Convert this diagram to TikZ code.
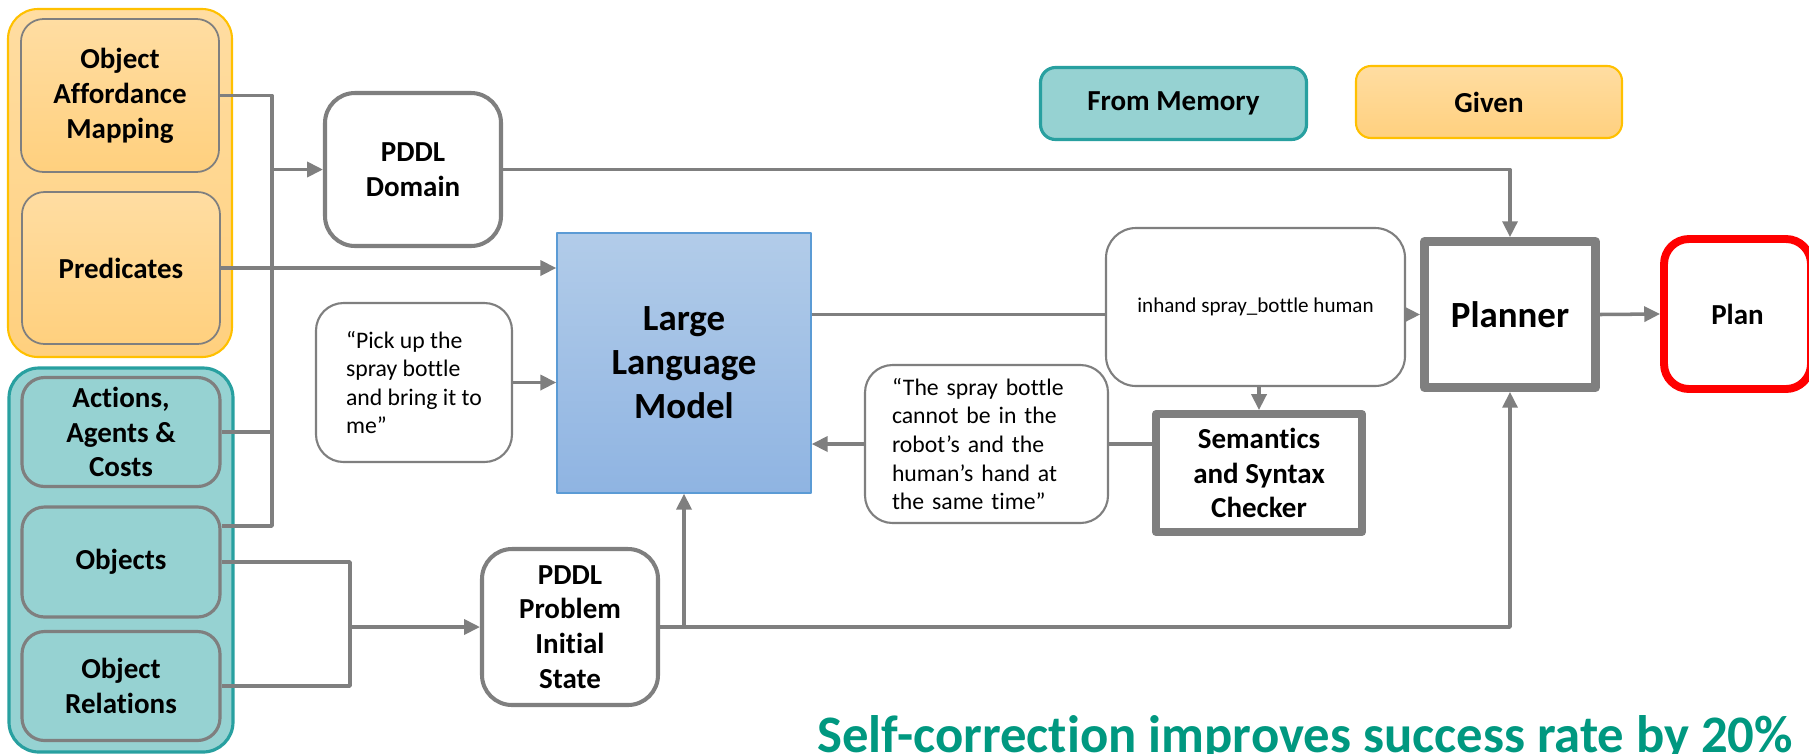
\documentclass[tikz,border=0pt]{standalone}
\usepackage{fontspec}
\setmainfont{Carlito}[Ligatures={NoCommon}]
\usetikzlibrary{arrows.meta}

\definecolor{linegray}{RGB}{127,127,127}
\definecolor{gold}{RGB}{255,192,0}
\definecolor{orangetop}{RGB}{255,221,162}
\definecolor{orangebot}{RGB}{255,208,126}
\definecolor{tealfill}{RGB}{150,210,210}
\definecolor{tealedge}{RGB}{40,160,160}
\definecolor{llmtop}{RGB}{178,204,233}
\definecolor{llmbot}{RGB}{143,180,226}
\definecolor{llmedge}{RGB}{91,155,213}
\definecolor{notegreen}{RGB}{0,152,128}

\begin{document}
\begin{tikzpicture}[line join=round,
  link/.style={draw=linegray,line width=2pt},
  arr/.style={link,-{Triangle[length=9pt,width=8.5pt]}},
  given/.style={top color=orangetop,bottom color=orangebot},
  memory/.style={fill=tealfill},
  group/.style={rounded corners=0.6cm,minimum width=4.48cm},
  key/.style={rounded corners=0.3cm,minimum width=5.32cm,minimum height=1.44cm,
    font=\bfseries\fontsize{16.5}{19.8}\selectfont},
  item/.style={draw=linegray,rounded corners=0.45cm,minimum width=3.96cm,align=center,
    font=\bfseries\fontsize{16.5}{19.8}\selectfont},
  plain/.style={draw=linegray,fill=white,rounded corners=0.6cm,align=center,
    font=\bfseries\fontsize{16.5}{19.8}\selectfont},
  speech/.style={draw=linegray,fill=white,line width=1.2pt,rounded corners=0.55cm,
    align=left,inner xsep=0.54cm,font=\fontsize{13.5}{16.3}\selectfont},
  heavy/.style={draw=linegray,fill=white,align=center,
    font=\bfseries\fontsize{16.5}{19.8}\selectfont}]
  \useasboundingbox (0,0) rectangle (36.18,-15.06);

  \node[group,given,draw=gold,line width=1.2pt,minimum height=6.96cm] (grpA) at (2.40,-3.66) {};
  \node[group,memory,draw=tealedge,line width=1.8pt,minimum height=7.68cm] (grpB) at (2.42,-11.20) {};
  \node[item,given,line width=1pt,minimum height=3.06cm] (oam) at (2.40,-1.91)
    {Object\\Affordance\\Mapping};
  \node[item,given,line width=1pt,minimum height=3.04cm] (pred) at (2.42,-5.36) {Predicates};
  \foreach \n/\y/\h/\t in {act/8.64/2.18/{Actions,\\Agents \&\\Costs},
    obj/11.24/2.20/Objects,rel/13.72/2.18/{Object\\Relations}}
    \node[item,memory,line width=1.8pt,minimum height=\h cm] (\n) at (2.42,-\y) {\t};

  \node[key,memory,draw=tealedge,line width=1.8pt] (mem) at (23.47,-2.07) {From Memory};
  \node[key,given,draw=gold,line width=1.2pt] (giv) at (29.78,-2.04) {Given};

  \node[plain,line width=2.3pt,minimum width=3.52cm,minimum height=3.06cm] (dom) at (8.26,-3.39)
    {PDDL\\Domain};
  \node[plain,line width=2.3pt,minimum width=3.52cm,minimum height=3.12cm] (prob) at (11.40,-12.54)
    {PDDL\\Problem\\Initial\\State};
  \node[draw=llmedge,line width=0.8pt,top color=llmtop,bottom color=llmbot,
    minimum width=5.08cm,minimum height=5.2cm,align=center,
    font=\bfseries\fontsize{21}{25}\selectfont] (llm) at (13.68,-7.26) {Large\\Language\\Model};
  \node[speech,minimum width=3.92cm,minimum height=3.18cm] (pick) at (8.28,-7.65)
    {“Pick up the\\spray bottle\\and bring it to\\me”};
  \node[speech,text width=3.78cm,minimum height=3.16cm] (fb) at (19.73,-8.88)
    {“The spray bottle\\cannot be in the\\robot’s and the\\human’s hand at\\the same time”};
  \node[speech,align=center,font=\fontsize{12}{14.4}\selectfont,rounded corners=0.6cm,
    minimum width=5.98cm,minimum height=3.16cm] (inh) at (25.11,-6.14) {inhand spray\_bottle human};
  \node[heavy,line width=4.5pt,minimum width=4.12cm,minimum height=2.36cm] (chk) at (25.18,-9.46)
    {Semantics\\and Syntax\\Checker};
  \node[heavy,line width=5pt,minimum width=3.42cm,minimum height=2.92cm,
    font=\bfseries\fontsize{21}{25}\selectfont] (plnr) at (30.20,-6.29) {Planner};
  \node[heavy,draw=red,line width=4.5pt,rounded corners=0.5cm,minimum width=2.94cm,
    minimum height=3.0cm] (plan) at (34.75,-6.28) {Plan};
  \node[anchor=base west,inner sep=0pt,text=notegreen,font=\bfseries\fontsize{30}{36}\selectfont]
    (note) at (16.34,-15.04) {Self-correction improves success rate by 20\%};

  \coordinate (bus) at (5.44,0);
  \coordinate (mrg) at (7.00,0);
  \draw[link] (oam.east) -- (oam.east -| bus) -- ([yshift=0.72cm]obj.east -| bus)
    -- ([yshift=0.72cm]obj.east);
  \draw[link] (act.east) -- (act.east -| bus);
  \draw[arr] (dom.west -| bus) -- (dom.west);
  \draw[arr] (pred.east) -- (pred.east -| llm.west);
  \draw[arr] (pick.east) -- (pick.east -| llm.west);
  \draw[link] (obj.east) -- (obj.east -| mrg) -- (rel.east -| mrg) -- (rel.east);
  \draw[arr] (prob.west -| mrg) -- (prob.west);
  \draw[arr] (prob.east) -| (plnr.south);
  \draw[arr] (prob.east -| llm.south) -- (llm.south);
  \draw[arr] (dom.east) -| (plnr.north);
  \draw[link] (llm.east |- plnr.west) -- (inh.west |- plnr.west);
  \draw[arr] (inh.east |- plnr.west) -- (plnr.west);
  \draw[arr] (chk.north |- inh.south) -- (chk.north);
  \draw[arr] (plnr.east) -- (plan.west);
  \draw[arr] (fb.west) -- (fb.west -| llm.east);
  \draw[link] (fb.east) -- (fb.east -| chk.west);
\end{tikzpicture}
\end{document}
